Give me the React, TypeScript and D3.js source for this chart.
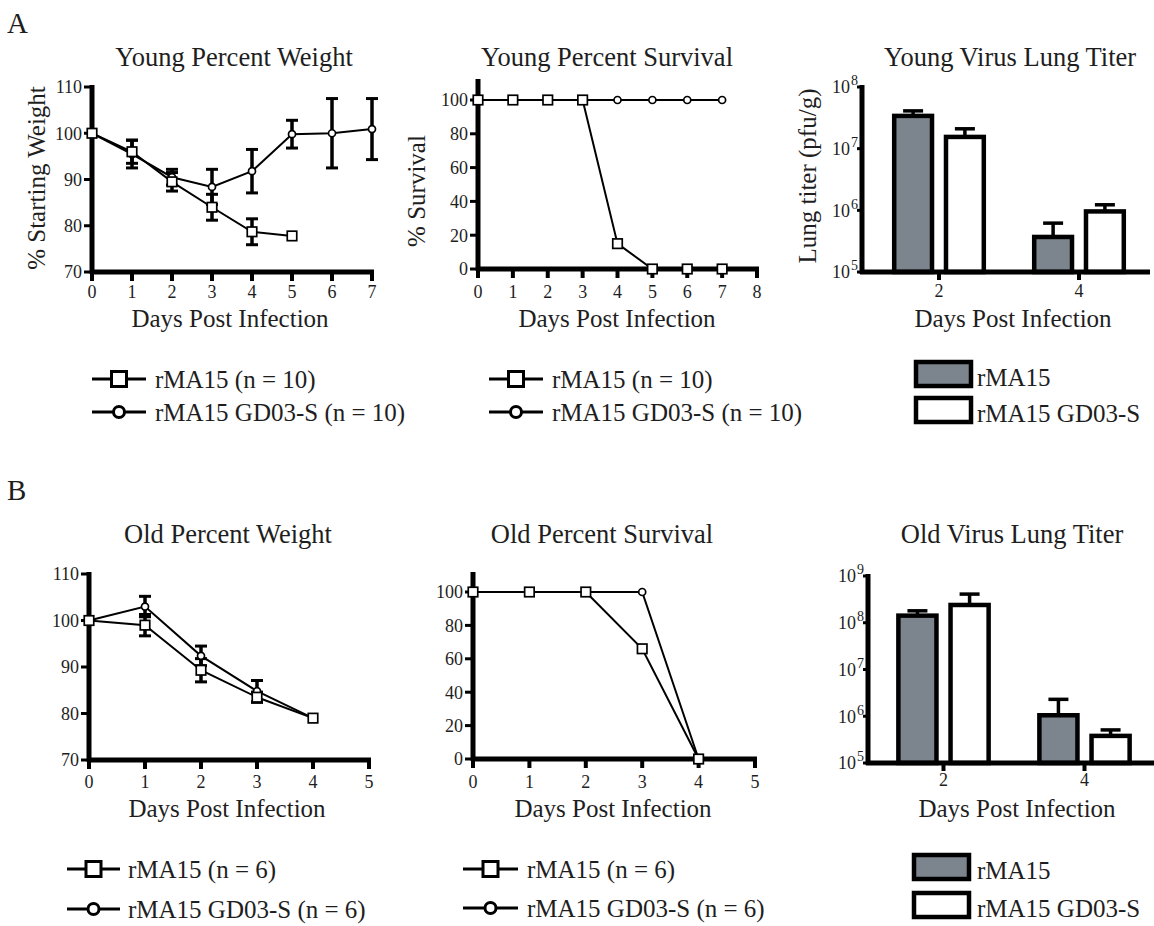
import React from "react";
import * as d3 from "d3";

// ---------------- DATA ----------------
const seriesNames = ["rMA15", "rMA15 GD03-S"];

const youngDays = [0, 1, 2, 3, 4, 5, 6, 7];
const youngWeightRMA15 = [100, 96, 89.5, 84, 78.7, 77.8];
const youngWeightRMA15Err = [0, 2.5, 2, 2.8, 2.8, 0];
const youngWeightGD03 = [100, 95.5, 90.5, 88.4, 91.8, 99.8, 100, 100.9];
const youngWeightGD03Err = [0, 3, 1.7, 3.8, 4.7, 3, 7.5, 6.6];

const youngSurvRMA15 = [100, 100, 100, 100, 15, 0, 0, 0];
const youngSurvGD03 = [100, 100, 100, 100, 100, 100, 100, 100];

const oldWeightRMA15 = [100, 99, 89.3, 83.5, 79];
const oldWeightRMA15Err = [0, 2.3, 2.5, 1.1, 0];
const oldWeightGD03 = [100, 103, 92.4, 84.8, 79];
const oldWeightGD03Err = [0, 2.2, 2.1, 2.3, 0];

const oldSurvRMA15 = [100, 100, 100, 66, 0];
const oldSurvGD03 = [100, 100, 100, 100, 0];

const titerDays = ["2", "4"];
const youngTiterRMA15 = [3.4e7, 3.7e5];
const youngTiterRMA15Upper = [4.1e7, 6.2e5];
const youngTiterGD03 = [1.55e7, 9.6e5];
const youngTiterGD03Upper = [2.1e7, 1.23e6];
const oldTiterRMA15 = [1.42e8, 1.05e6];
const oldTiterRMA15Upper = [1.8e8, 2.3e6];
const oldTiterGD03 = [2.4e8, 3.8e5];
const oldTiterGD03Upper = [4.1e8, 5.1e5];

const weightTicks = [70, 80, 90, 100, 110];
const survTicks = [0, 20, 40, 60, 80, 100];
const youngTiterTicks = [1e5, 1e6, 1e7, 1e8];
const oldTiterTicks = [1e5, 1e6, 1e7, 1e8, 1e9];

// ---------------- STYLE ----------------
const FONT = "'Liberation Serif', 'Times New Roman', serif";
const TXT = "#1e1e1e";
const GRAY = "#7c848d";
const TITLE_FS = 26.5;
const LABEL_FS = 25;
const LEGEND_FS = 25;
const TICK_FS = 18;

type Series = { values: number[]; errs?: number[]; marker: "square" | "circle" };

function Marker({ kind, cx, cy, size, sw }: { kind: string; cx: number; cy: number; size: number; sw: number }) {
  if (kind === "square")
    return <rect x={cx - size / 2} y={cy - size / 2} width={size} height={size} fill="#fff" stroke="#000" strokeWidth={sw} />;
  return <circle cx={cx} cy={cy} r={size / 2} fill="#fff" stroke="#000" strokeWidth={sw} />;
}

function LinePanel(props: {
  xDomain: [number, number];
  xRange: [number, number];
  yDomain: [number, number];
  yRange: [number, number];
  yTop: number;
  xTicks: number[];
  yTicks: number[];
  series: Series[];
  title: string;
  titleX: number;
  titleY: number;
  xLabelX: number;
  xLabelY: number;
  tickLabelY: number;
  yLabel?: string;
  yLabelX?: number;
  yLabelY?: number;
}) {
  const x = d3.scaleLinear().domain(props.xDomain).range(props.xRange);
  const y = d3.scaleLinear().domain(props.yDomain).range(props.yRange);
  const y0 = y(props.yDomain[0]);
  const x0 = x(props.xDomain[0]);
  const line = d3
    .line<number>()
    .x((_, i) => x(i))
    .y((d) => y(d));
  return (
    <g>
      <text x={props.titleX} y={props.titleY} textAnchor="middle" fontSize={TITLE_FS} fill={TXT} fontFamily={FONT}>
        {props.title}
      </text>
      {props.yLabel && (
        <text
          x={props.yLabelX}
          y={props.yLabelY}
          transform={`rotate(-90, ${props.yLabelX}, ${props.yLabelY})`}
          textAnchor="middle"
          fontSize={LABEL_FS}
          fill={TXT}
          fontFamily={FONT}
        >
          {props.yLabel}
        </text>
      )}
      {/* axes */}
      <line x1={x0} x2={x0} y1={props.yTop} y2={y0 + 2} stroke="#000" strokeWidth={5} />
      <line x1={x0 - 2} x2={x(props.xDomain[1]) + 2} y1={y0} y2={y0} stroke="#000" strokeWidth={5} />
      {props.yTicks.map((t) => (
        <g key={"y" + t}>
          <line x1={x0 - 8} x2={x0} y1={y(t)} y2={y(t)} stroke="#000" strokeWidth={3} />
          <text x={x0 - 10} y={y(t)} dy="0.35em" textAnchor="end" fontSize={TICK_FS} fill={TXT} fontFamily={FONT}>
            {t}
          </text>
        </g>
      ))}
      {props.xTicks.map((t) => (
        <g key={"x" + t}>
          <line x1={x(t)} x2={x(t)} y1={y0} y2={y0 + 9} stroke="#000" strokeWidth={4} />
          <text x={x(t)} y={props.tickLabelY} textAnchor="middle" fontSize={TICK_FS} fill={TXT} fontFamily={FONT}>
            {t}
          </text>
        </g>
      ))}
      <text x={props.xLabelX} y={props.xLabelY} textAnchor="middle" fontSize={LABEL_FS} fill={TXT} fontFamily={FONT}>
        Days Post Infection
      </text>
      {/* lines */}
      {props.series.map((s, si) => (
        <path key={"l" + si} d={line(s.values) || ""} fill="none" stroke="#000" strokeWidth={2} />
      ))}
      {/* error bars */}
      {props.series.map((s, si) =>
        (s.errs || []).map((e, i) =>
          e > 0 ? (
            <g key={"e" + si + "-" + i}>
              <line x1={x(i)} x2={x(i)} y1={y(s.values[i] - e)} y2={y(s.values[i] + e)} stroke="#000" strokeWidth={3.5} />
              <line x1={x(i) - 6} x2={x(i) + 6} y1={y(s.values[i] - e)} y2={y(s.values[i] - e)} stroke="#000" strokeWidth={3} />
              <line x1={x(i) - 6} x2={x(i) + 6} y1={y(s.values[i] + e)} y2={y(s.values[i] + e)} stroke="#000" strokeWidth={3} />
            </g>
          ) : null
        )
      )}
      {/* markers: circles first, squares on top */}
      {[...props.series]
        .sort((a, b) => (a.marker === "circle" ? -1 : 1) - (b.marker === "circle" ? -1 : 1))
        .map((s, si) =>
          s.values.map((v, i) => (
            <Marker key={"m" + si + "-" + i} kind={s.marker} cx={x(i)} cy={y(v)} size={s.marker === "square" ? 9.5 : 7} sw={1.7} />
          ))
        )}
    </g>
  );
}

function Pow10({ v, x, y }: { v: number; x: number; y: number }) {
  const e = Math.round(Math.log10(v));
  return (
    <text x={x} y={y} dy="0.35em" textAnchor="end" fontSize={TICK_FS} fill={TXT} fontFamily={FONT}>
      10
      <tspan fontSize={14} dy={-8} dx={1}>
        {e}
      </tspan>
    </text>
  );
}

function BarPanel(props: {
  bandRange: [number, number];
  axisX: number;
  axisEnd: number;
  yDomain: [number, number];
  yRange: [number, number];
  yTicks: number[];
  values: number[][];
  uppers: number[][];
  fills: string[];
  title: string;
  titleX: number;
  titleY: number;
  tickLabelY: number;
  xLabelX: number;
  xLabelY: number;
  yLabel?: string;
  yLabelX?: number;
  yLabelY?: number;
}) {
  const xb = d3.scaleBand<string>().domain(titerDays).range(props.bandRange).padding(0);
  const inner = d3
    .scaleBand<string>()
    .domain(seriesNames)
    .range([xb.bandwidth() * 0.18, xb.bandwidth() * 0.82])
    .paddingInner(0.27)
    .paddingOuter(0);
  const y = d3.scaleLog().domain(props.yDomain).range(props.yRange);
  const y0 = y(props.yDomain[0]);
  return (
    <g>
      <text x={props.titleX} y={props.titleY} textAnchor="middle" fontSize={TITLE_FS} fill={TXT} fontFamily={FONT}>
        {props.title}
      </text>
      {props.yLabel && (
        <text
          x={props.yLabelX}
          y={props.yLabelY}
          transform={`rotate(-90, ${props.yLabelX}, ${props.yLabelY})`}
          textAnchor="middle"
          fontSize={LABEL_FS}
          fill={TXT}
          fontFamily={FONT}
        >
          {props.yLabel}
        </text>
      )}
      {/* bars */}
      {titerDays.map((d, gi) =>
        seriesNames.map((s, si) => {
          const bx = (xb(d) || 0) + (inner(s) || 0);
          const w = inner.bandwidth();
          const top = y(props.values[si][gi]);
          const up = y(props.uppers[si][gi]);
          const cx = bx + w / 2;
          return (
            <g key={d + s}>
              <line x1={cx} x2={cx} y1={top} y2={up} stroke="#000" strokeWidth={3.5} />
              <line x1={cx - 10} x2={cx + 10} y1={up} y2={up} stroke="#000" strokeWidth={3.5} />
              <rect x={bx} y={top} width={w} height={y0 - top} fill={props.fills[si]} stroke="#000" strokeWidth={4.5} />
            </g>
          );
        })
      )}
      {/* axes */}
      <line x1={props.axisX} x2={props.axisX} y1={props.yRange[1] - 2} y2={y0 + 2} stroke="#000" strokeWidth={5} />
      <line x1={props.axisX - 2} x2={props.axisEnd} y1={y0} y2={y0} stroke="#000" strokeWidth={5} />
      {props.yTicks.map((t) => (
        <g key={"y" + t}>
          <line x1={props.axisX - 5} x2={props.axisX} y1={y(t)} y2={y(t)} stroke="#000" strokeWidth={3} />
          <Pow10 v={t} x={props.axisX - 4} y={y(t)} />
        </g>
      ))}
      {titerDays.map((d) => {
        const cx = (xb(d) || 0) + xb.bandwidth() / 2;
        return (
          <g key={"x" + d}>
            <line x1={cx} x2={cx} y1={y0} y2={y0 + 8} stroke="#000" strokeWidth={4} />
            <text x={cx} y={props.tickLabelY} textAnchor="middle" fontSize={TICK_FS} fill={TXT} fontFamily={FONT}>
              {d}
            </text>
          </g>
        );
      })}
      <text x={props.xLabelX} y={props.xLabelY} textAnchor="middle" fontSize={LABEL_FS} fill={TXT} fontFamily={FONT}>
        Days Post Infection
      </text>
    </g>
  );
}

function LineLegend({ x1, x2, textX, rows }: { x1: number; x2: number; textX: number; rows: { y: number; marker: string; text: string }[] }) {
  return (
    <g>
      {rows.map((r) => (
        <g key={r.text}>
          <line x1={x1} x2={x2} y1={r.y} y2={r.y} stroke="#000" strokeWidth={3} />
          <Marker kind={r.marker} cx={(x1 + x2) / 2} cy={r.y} size={r.marker === "square" ? 15 : 11} sw={3} />
          <text x={textX} y={r.y + 9} fontSize={LEGEND_FS} fill={TXT} fontFamily={FONT}>
            {r.text}
          </text>
        </g>
      ))}
    </g>
  );
}

function BarLegend({ x, textX, rows }: { x: number; textX: number; rows: { y: number; fill: string; text: string }[] }) {
  return (
    <g>
      {rows.map((r) => (
        <g key={r.text}>
          <rect x={x} y={r.y} width={55} height={24} fill={r.fill} stroke="#000" strokeWidth={4.5} />
          <text x={textX} y={r.y + 24} fontSize={LEGEND_FS} fill={TXT} fontFamily={FONT}>
            {r.text}
          </text>
        </g>
      ))}
    </g>
  );
}

export default function App() {
  return (
    <svg width={1154} height={926} style={{ position: "absolute", left: 0, top: 0, background: "#fff" }}>
      <rect width={1154} height={926} fill="#fff" />
      <text x={7} y={33} fontSize={29} fill={TXT} fontFamily={FONT}>A</text>
      <text x={7} y={500} fontSize={29} fill={TXT} fontFamily={FONT}>B</text>

      {/* ---- A row ---- */}
      <LinePanel
        xDomain={[0, 7]}
        xRange={[92, 372]}
        yDomain={[70, 110]}
        yRange={[272, 87]}
        yTop={85}
        xTicks={youngDays}
        yTicks={weightTicks}
        series={[
          { values: youngWeightRMA15, errs: youngWeightRMA15Err, marker: "square" },
          { values: youngWeightGD03, errs: youngWeightGD03Err, marker: "circle" },
        ]}
        title="Young Percent Weight"
        titleX={234}
        titleY={66}
        xLabelX={230}
        xLabelY={327}
        tickLabelY={298}
        yLabel="% Starting Weight"
        yLabelX={45}
        yLabelY={178}
      />
      <LinePanel
        xDomain={[0, 8]}
        xRange={[478, 757]}
        yDomain={[0, 100]}
        yRange={[269, 100]}
        yTop={79}
        xTicks={[0, 1, 2, 3, 4, 5, 6, 7, 8]}
        yTicks={survTicks}
        series={[
          { values: youngSurvGD03, marker: "circle" },
          { values: youngSurvRMA15, marker: "square" },
        ]}
        title="Young Percent Survival"
        titleX={607}
        titleY={66}
        xLabelX={617}
        xLabelY={327}
        tickLabelY={298}
        yLabel="% Survival"
        yLabelX={425}
        yLabelY={191}
      />
      <BarPanel
        bandRange={[869, 1149]}
        axisX={862}
        axisEnd={1150}
        yDomain={[1e5, 1e8]}
        yRange={[272, 87]}
        yTicks={youngTiterTicks}
        values={[youngTiterRMA15, youngTiterGD03]}
        uppers={[youngTiterRMA15Upper, youngTiterGD03Upper]}
        fills={[GRAY, "#fff"]}
        title="Young Virus Lung Titer"
        titleX={1010}
        titleY={66}
        tickLabelY={297}
        xLabelX={1013}
        xLabelY={327}
        yLabel="Lung titer (pfu/g)"
        yLabelX={816}
        yLabelY={176}
      />
      <LineLegend
        x1={92}
        x2={146}
        textX={155}
        rows={[
          { y: 379, marker: "square", text: "rMA15 (n = 10)" },
          { y: 412, marker: "circle", text: "rMA15 GD03-S (n = 10)" },
        ]}
      />
      <LineLegend
        x1={489}
        x2={543}
        textX={552}
        rows={[
          { y: 379, marker: "square", text: "rMA15 (n = 10)" },
          { y: 412, marker: "circle", text: "rMA15 GD03-S (n = 10)" },
        ]}
      />
      <BarLegend
        x={916}
        textX={977}
        rows={[
          { y: 362, fill: GRAY, text: seriesNames[0] },
          { y: 398, fill: "#fff", text: seriesNames[1] },
        ]}
      />

      {/* ---- B row ---- */}
      <LinePanel
        xDomain={[0, 5]}
        xRange={[89, 369]}
        yDomain={[70, 110]}
        yRange={[760, 574]}
        yTop={572}
        xTicks={[0, 1, 2, 3, 4, 5]}
        yTicks={weightTicks}
        series={[
          { values: oldWeightRMA15, errs: oldWeightRMA15Err, marker: "square" },
          { values: oldWeightGD03, errs: oldWeightGD03Err, marker: "circle" },
        ]}
        title="Old Percent Weight"
        titleX={228}
        titleY={543}
        xLabelX={227}
        xLabelY={817}
        tickLabelY={788}
      />
      <LinePanel
        xDomain={[0, 5]}
        xRange={[473, 755]}
        yDomain={[0, 100]}
        yRange={[759, 592]}
        yTop={572}
        xTicks={[0, 1, 2, 3, 4, 5]}
        yTicks={survTicks}
        series={[
          { values: oldSurvGD03, marker: "circle" },
          { values: oldSurvRMA15, marker: "square" },
        ]}
        title="Old Percent Survival"
        titleX={602}
        titleY={543}
        xLabelX={613}
        xLabelY={817}
        tickLabelY={788}
      />
      <BarPanel
        bandRange={[873, 1155]}
        axisX={868}
        axisEnd={1154}
        yDomain={[1e5, 1e9]}
        yRange={[763, 576]}
        yTicks={oldTiterTicks}
        values={[oldTiterRMA15, oldTiterGD03]}
        uppers={[oldTiterRMA15Upper, oldTiterGD03Upper]}
        fills={[GRAY, "#fff"]}
        title="Old Virus Lung Titer"
        titleX={1012}
        titleY={543}
        tickLabelY={786}
        xLabelX={1017}
        xLabelY={817}
      />
      <LineLegend
        x1={67}
        x2={120}
        textX={128}
        rows={[
          { y: 869, marker: "square", text: "rMA15 (n = 6)" },
          { y: 909, marker: "circle", text: "rMA15 GD03-S (n = 6)" },
        ]}
      />
      <LineLegend
        x1={463}
        x2={518}
        textX={527}
        rows={[
          { y: 869, marker: "square", text: "rMA15 (n = 6)" },
          { y: 908, marker: "circle", text: "rMA15 GD03-S (n = 6)" },
        ]}
      />
      <BarLegend
        x={914}
        textX={977}
        rows={[
          { y: 855, fill: GRAY, text: seriesNames[0] },
          { y: 893, fill: "#fff", text: seriesNames[1] },
        ]}
      />
    </svg>
  );
}
